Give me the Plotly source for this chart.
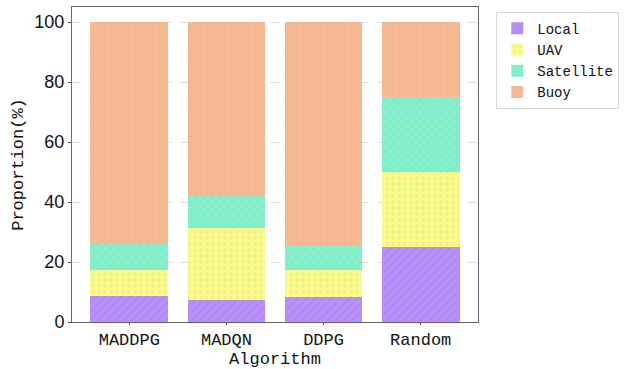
import plotly.graph_objects as go

algorithms = ["MADDPG", "MADQN", "DDPG", "Random"]
local_vals = [8.7, 7.3, 8.4, 25.0]
uav_vals = [8.7, 23.9, 8.9, 25.0]
satellite_vals = [8.8, 10.8, 8.5, 25.0]
buoy_vals = [73.8, 58.0, 74.2, 25.0]

series = [
    ("Local", local_vals, "#b890f8", "#a47cf0", "/"),
    ("UAV", uav_vals, "#fafa8e", "#e6e670", "."),
    ("Satellite", satellite_vals, "#86f0cc", "#6cdcb8", "x"),
    ("Buoy", buoy_vals, "#f7bb93", "#eaa57c", "+"),
]

mono = "Liberation Mono, DejaVu Sans Mono, monospace"
fig = go.Figure()
for name, vals, color, fg, shape in series:
    fig.add_trace(go.Bar(
        x=list(range(len(algorithms))), y=vals, name=name, width=0.8,
        marker=dict(color=color, line=dict(width=0),
                    pattern=dict(shape=shape, fgcolor=fg, bgcolor=color,
                                 size=6, solidity=0.25, fillmode="overlay")),
    ))

fig.update_layout(
    barmode="stack",
    width=630, height=369,
    margin=dict(l=72, r=152, t=7, b=47),
    plot_bgcolor="white", paper_bgcolor="white",
    font=dict(family=mono, color="#222"),
    legend=dict(
        x=1.045, y=0.985, xanchor="left", yanchor="top",
        bordercolor="#d8d8d8", borderwidth=1,
        font=dict(family=mono, size=14, color="#111"),
        itemwidth=30,
        traceorder="normal",
    ),
    xaxis=dict(
        range=[-0.59, 3.59], automargin=False,
        tickmode="array", tickvals=list(range(len(algorithms))), ticktext=algorithms,
        tickfont=dict(family=mono, size=17, color="#111"),
        ticks="outside", ticklen=2, tickcolor="#555",
        showline=True, linecolor="#666", linewidth=1, mirror=True,
        showgrid=False, zeroline=False,
        title=dict(text="Algorithm", font=dict(family=mono, size=17, color="#111"), standoff=0),
    ),
    yaxis=dict(
        range=[0, 105], automargin=False,
        tickvals=[0, 20, 40, 60, 80, 100],
        tickfont=dict(family="Liberation Sans, Arial", size=18, color="#111"),
        ticks="outside", ticklen=3, tickcolor="#555",
        showline=True, linecolor="#666", linewidth=1, mirror=True,
        showgrid=True, gridcolor="#dddddd", griddash="dash", gridwidth=1,
        zeroline=False,
        title=dict(text="Proportion(%)", font=dict(family=mono, size=17, color="#111"), standoff=6),
    ),
)

fig.write_html("out.html")
